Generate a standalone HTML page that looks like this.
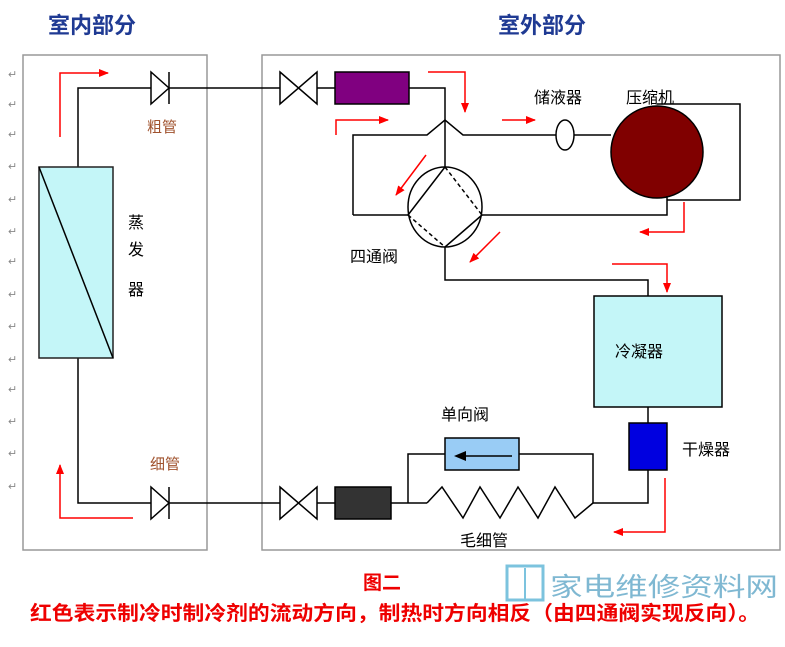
<!DOCTYPE html>
<html><head><meta charset="utf-8"><style>
body{margin:0;background:#fff;width:785px;height:642px;overflow:hidden}
svg text{font-family:"Liberation Sans","Noto Sans CJK SC",sans-serif}
</style></head><body>
<svg width="785" height="642" viewBox="0 0 785 642" xmlns="http://www.w3.org/2000/svg">
<defs><marker id="a" markerWidth="10" markerHeight="8" refX="9" refY="4" orient="auto" markerUnits="userSpaceOnUse" viewBox="0 0 10 8"><path d="M0,0L10,4L0,8z" fill="#f00"/></marker></defs>
<text x="48" y="33" font-size="22" font-weight="bold" fill="#1f3a93">室内部分</text>
<text x="498" y="33" font-size="22" font-weight="bold" fill="#1f3a93">室外部分</text>
<rect x="23" y="55" width="184" height="495" fill="none" stroke="#999" stroke-width="1.5"/>
<rect x="262" y="55" width="518" height="495" fill="none" stroke="#999" stroke-width="1.5"/>
<g fill="#888" font-size="11">
<text x="8" y="78">↵</text><text x="8" y="108">↵</text><text x="8" y="138">↵</text><text x="8" y="170">↵</text><text x="8" y="203">↵</text><text x="8" y="235">↵</text><text x="8" y="265">↵</text><text x="8" y="298">↵</text><text x="8" y="330">↵</text><text x="8" y="363">↵</text><text x="8" y="393">↵</text><text x="8" y="425">↵</text><text x="8" y="457">↵</text><text x="8" y="490">↵</text></g>
<g stroke="#000" stroke-width="1.5" fill="none">
<path d="M78,167V88H280M317,88H335M409,88H445V167"/>
<path d="M78,358V503H280M317,503H335M391,503H427"/>
<rect x="39" y="167" width="74" height="191" fill="#c4f6f8" stroke="#222"/>
<path d="M39,167L113,358"/>
<path d="M151,72V104L169,88z" stroke="#000" fill="#fff"/><path d="M169,72V104"/>
<path d="M151,487V519L169,503z" stroke="#000" fill="#fff"/><path d="M169,487V519"/>
<path d="M280,72L317,104V72L280,104z"/><path d="M280,487L317,519V487L280,519z"/>
<rect x="335" y="72" width="74" height="32" fill="#800080"/>
<rect x="335" y="487" width="56" height="32" fill="#333"/>
<path d="M353,215V135H427L445,120L463,135H556M574,135H611"/>
<ellipse cx="565" cy="135" rx="9" ry="15" fill="#fff"/>
<circle cx="657" cy="152" r="46" fill="#800000"/>
<path d="M657,104H740V200H667M667,196V215H482M408,215H353"/>
<ellipse cx="445" cy="207" rx="37" ry="40" fill="#fff"/>
<path d="M445,167L408,215M482,215L445,247"/>
<path d="M445,167L482,215M408,215L445,247" stroke-dasharray="4,3"/>
<path d="M445,247V280H648V296"/>
<rect x="594" y="296" width="128" height="111" fill="#c4f6f8"/>
<path d="M648,407V423M648,470V503H593"/>
<rect x="629" y="423" width="38" height="47" fill="#0000e0"/>
<path d="M427,503L442,487L463,518L480,487L500,518L518,487L538,518L555,487L575,518L593,503"/>
<path d="M408,503V454H445M519,454H593V503"/>
<rect x="445" y="438" width="74" height="32" fill="#99ccf5"/>
</g>
<path d="M512,456H458" stroke="#000" stroke-width="1.5"/><path d="M454,456L466,451V461z"/>
<g stroke="#f00" stroke-width="1.5" fill="none" marker-end="url(#a)">
<path d="M60,137V73H108"/><path d="M133,518H60V465"/>
<path d="M428,72H465V112"/><path d="M336,135V120H388"/>
<path d="M502,120H535"/><path d="M426,155L396,195"/>
<path d="M500,232L470,262"/><path d="M684,202V232H640"/>
<path d="M612,264H667V292"/><path d="M665,478V532H614"/>
</g>
<g font-size="16" fill="#000">
<text x="128" y="228">蒸</text><text x="128" y="255">发</text><text x="128" y="295">器</text>
<text x="534" y="103">储液器</text><text x="626" y="103">压缩机</text>
<text x="350" y="262">四通阀</text><text x="615" y="357">冷凝器</text>
<text x="441" y="420">单向阀</text><text x="682" y="455">干燥器</text>
<text x="460" y="546">毛细管</text></g>
<text x="147" y="132" font-size="15" fill="#a0522d">粗管</text>
<text x="150" y="469" font-size="15" fill="#a0522d">细管</text>
<text x="363" y="589" font-size="19" font-weight="bold" fill="#e00">图二</text>
<text x="30" y="620" font-size="20" font-weight="bold" fill="#e00" textLength="730" lengthAdjust="spacingAndGlyphs">红色表示制冷时制冷剂的流动方向，制热时方向相反（由四通阀实现反向）。</text>
<rect x="507" y="566" width="36" height="34" fill="none" stroke="#7cc3de" stroke-width="3"/>
<path d="M525,568V600" stroke="#7cc3de" stroke-width="2"/>
<text x="550" y="596" font-size="26" fill="#7fb8d2" textLength="228" lengthAdjust="spacingAndGlyphs">家电维修资料网</text>
</svg>
</body></html>
